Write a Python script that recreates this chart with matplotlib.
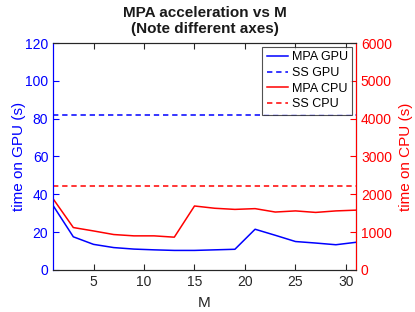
import numpy as np
import matplotlib.pyplot as plt

plt.rcParams['font.family'] = ['Liberation Sans', 'DejaVu Sans']

# data
M = [1, 3, 5, 7, 9, 11, 13, 15, 17, 19, 21, 23, 25, 27, 29, 31]
mpa_gpu = [34, 17.5, 13.5, 11.8, 11.0, 10.6, 10.3, 10.3, 10.6, 10.9,
           21.5, 18.3, 15.0, 14.2, 13.3, 14.6]
mpa_cpu = [1880, 1120, 1030, 935, 900, 900, 865, 1690, 1630, 1600,
           1620, 1530, 1560, 1520, 1560, 1580]
ss_gpu = 82
ss_cpu = 2230

fig = plt.figure(figsize=(4.15, 3.12), dpi=100)
ax = fig.add_axes([0.128, 0.135, 0.730, 0.727])
ax2 = ax.twinx()

blue = (0, 0, 1)
red = (1, 0, 0)

l1, = ax.plot(M, mpa_gpu, color=blue, lw=1.1, label="MPA GPU")
l2 = ax.axhline(ss_gpu, color=blue, lw=1.1, ls=(0, (3.5, 2.5)), label="SS GPU")
l3, = ax2.plot(M, mpa_cpu, color=red, lw=1.1, label="MPA CPU")
l4 = ax2.axhline(ss_cpu, color=red, lw=1.1, ls=(0, (3.5, 2.5)), label="SS CPU")

ax.set_xlim(1, 31)
ax.set_ylim(0, 120)
ax2.set_ylim(0, 6000)
ax.set_xticks([5, 10, 15, 20, 25, 30])
ax.set_yticks([0, 20, 40, 60, 80, 100, 120])
ax2.set_yticks([0, 1000, 2000, 3000, 4000, 5000, 6000])

ax.tick_params(axis='x', direction='in', length=4, labelsize=10, colors='0.15', top=True)
ax.tick_params(axis='y', direction='in', length=4, labelsize=10, colors=blue)
ax2.tick_params(axis='y', direction='in', length=4, labelsize=10, colors=red)

for a in (ax, ax2):
    a.spines['top'].set_color('0.15')
    a.spines['bottom'].set_color('0.15')
ax2.spines['left'].set_color(blue)
ax2.spines['right'].set_color(red)
ax.spines['left'].set_color(blue)

ax.set_xlabel("M", fontsize=11, color='0.15', labelpad=5)
ax.set_ylabel("time on GPU (s)", fontsize=11, color=blue, labelpad=-1)
ax2.set_ylabel("time on CPU (s)", fontsize=11, color=red, labelpad=5)
ax.set_title("MPA acceleration vs M\n(Note different axes)", fontsize=11,
             fontweight='bold', color='0.1', pad=7, linespacing=1.2)

leg = ax2.legend(handles=[l1, l2, l3, l4], loc='upper right', fontsize=9,
                 frameon=True, fancybox=False, edgecolor='0.15',
                 handlelength=1.7, handletextpad=0.3, borderpad=0.35,
                 labelspacing=0.3, borderaxespad=0.3)
leg.get_frame().set_linewidth(0.8)

fig.savefig("out.png", dpi=100)
